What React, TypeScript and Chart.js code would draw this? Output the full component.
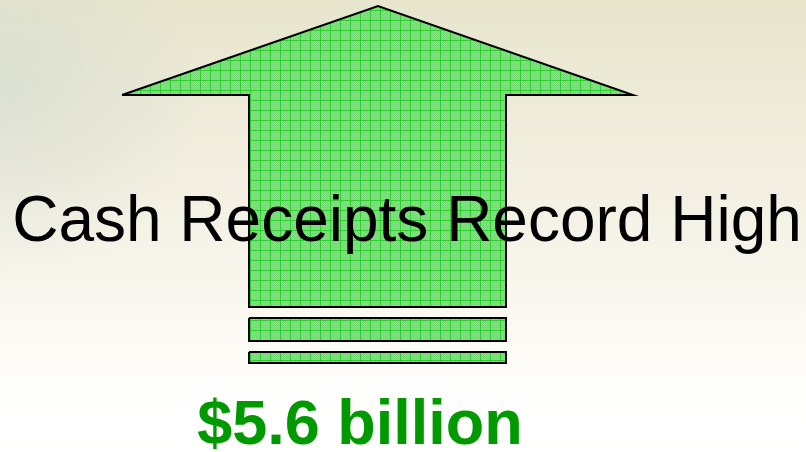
import React, { useEffect, useRef } from "react";
import { Chart, registerables } from "chart.js";

Chart.register(...registerables);

// Arrow outline (x, y in picture units: x to the right, y downward)
const arrowX = [122, 378, 633, 506, 506, 249, 249, 122];
const arrowY = [95, 6, 95, 95, 307, 307, 95, 95];
// Two stripes under the arrow
const stripe1X = [249, 506, 506, 249, 249];
const stripe1Y = [318, 318, 341, 341, 318];
const stripe2X = [249, 506, 506, 249, 249];
const stripe2Y = [352, 352, 363, 363, 352];

const headline = "Cash Receipts Record High";
const headlineAt = [407, 241];
const amountLabel = "$5.6 billion";
const amountAt = [360, 444];

const toPoints = (xs: number[], ys: number[]) => xs.map((x, i) => ({ x, y: ys[i] }));

function makePattern(): CanvasPattern | string {
  const c = document.createElement("canvas");
  const s = 10;
  c.width = s;
  c.height = s;
  const g = c.getContext("2d");
  if (!g) return "#82e082";
  g.fillStyle = "#84e284";
  g.fillRect(0, 0, s, s);
  for (let y = 0; y < s; y++) {
    for (let x = 0; x < s; x++) {
      if ((x + y) % 2 === 0) {
        g.fillStyle = "rgba(60,170,60,0.18)";
        g.fillRect(x, y, 1, 1);
      }
    }
  }
  g.fillStyle = "#2fcf2f";
  g.fillRect(0, 0, s, 1);
  g.fillRect(0, 0, 1, s);
  const p = g.createPattern(c, "repeat");
  return p || "#82e082";
}

const backgroundPlugin = {
  id: "bgPlugin",
  beforeDraw(chart: any) {
    const { ctx, width, height } = chart;
    ctx.save();
    const v = ctx.createLinearGradient(0, 0, 0, height);
    v.addColorStop(0, "#e8e5cd");
    v.addColorStop(0.3, "#efecdc");
    v.addColorStop(0.55, "#f6f3e9");
    v.addColorStop(0.75, "#fcfaf4");
    v.addColorStop(0.86, "#fefefd");
    v.addColorStop(1, "#ffffff");
    ctx.fillStyle = v;
    ctx.fillRect(0, 0, width, height);
    const r = ctx.createRadialGradient(0, 80, 0, 0, 80, 200);
    r.addColorStop(0, "rgba(212,220,208,0.7)");
    r.addColorStop(1, "rgba(212,220,208,0)");
    ctx.fillStyle = r;
    ctx.fillRect(0, 0, width, height);
    ctx.restore();
  },
};

const textPlugin = {
  id: "textPlugin",
  afterDatasetsDraw(chart: any) {
    const { ctx, scales } = chart;
    const xs = scales.x;
    const ys = scales.y;
    ctx.save();
    ctx.textAlign = "center";
    ctx.textBaseline = "alphabetic";
    ctx.fillStyle = "#000000";
    ctx.font = "64px 'Liberation Sans', Arial, sans-serif";
    ctx.fillText(headline, xs.getPixelForValue(headlineAt[0]), ys.getPixelForValue(headlineAt[1]));
    ctx.fillStyle = "#009a00";
    ctx.font = "bold 63px 'Liberation Sans', Arial, sans-serif";
    ctx.fillText(amountLabel, xs.getPixelForValue(amountAt[0]), ys.getPixelForValue(amountAt[1]));
    ctx.restore();
  },
};

export default function App() {
  const ref = useRef<HTMLCanvasElement | null>(null);
  useEffect(() => {
    if (!ref.current) return;
    const pattern = makePattern();
    const shape = (data: { x: number; y: number }[]) => ({
      data,
      showLine: true,
      fill: "shape",
      backgroundColor: pattern,
      borderColor: "#000000",
      borderWidth: 2,
      borderJoinStyle: "miter",
      pointRadius: 0,
      pointHoverRadius: 0,
      tension: 0,
    });
    const chart = new Chart(ref.current, {
      type: "scatter",
      data: {
        datasets: [
          shape(toPoints(arrowX, arrowY)),
          shape(toPoints(stripe1X, stripe1Y)),
          shape(toPoints(stripe2X, stripe2Y)),
        ] as any,
      },
      options: {
        animation: false,
        responsive: true,
        maintainAspectRatio: false,
        layout: { padding: 0 },
        events: [],
        plugins: {
          legend: { display: false },
          tooltip: { enabled: false },
          title: { display: false },
        },
        scales: {
          x: { type: "linear", min: 0, max: 806, display: false },
          y: { type: "linear", min: 0, max: 452, reverse: true, display: false },
        },
      } as any,
      plugins: [backgroundPlugin, textPlugin],
    });
    return () => chart.destroy();
  }, []);
  return (
    <div style={{ position: "fixed", left: 0, top: 0, width: 806, height: 452 }}>
      <canvas ref={ref} />
    </div>
  );
}
